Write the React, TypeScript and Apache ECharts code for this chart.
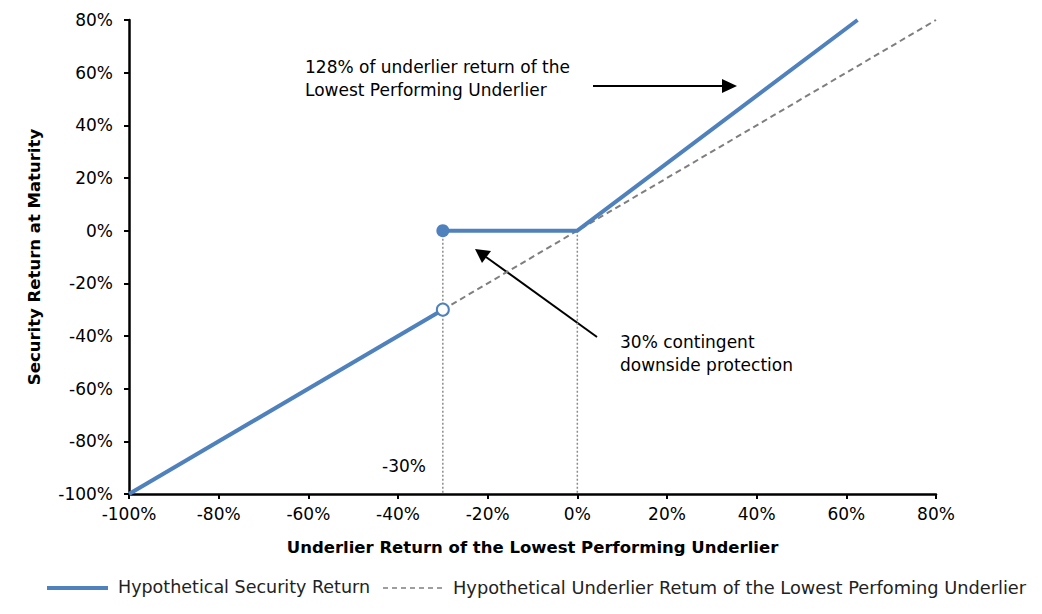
import React, { useEffect, useRef } from "react";
import * as echarts from "echarts";

const xTicks = [-100, -80, -60, -40, -20, 0, 20, 40, 60, 80];
const securityLow: [number, number][] = [[-100, -100], [-30, -30]];
const securityHigh: [number, number][] = [[-30, 0], [0, 0], [62.5, 80]];
const underlier: [number, number][] = [[-30, -30], [80, 80]];
const guide1: [number, number][] = [[-30, 0], [-30, -100]];
const guide2: [number, number][] = [[0, 0], [0, -100]];
const filledPoint: [number, number][] = [[-30, 0]];
const openPoint: [number, number][] = [[-30, -30]];

const SEC = "Hypothetical Security Return";
const UND = "Hypothetical Underlier Retum of the Lowest Perfoming Underlier";
const FONT = "DejaVu Sans";
const BLUE = "#4f81bd";
const GRAY = "#7f7f7f";

export default function App() {
  const ref = useRef<HTMLDivElement>(null);
  useEffect(() => {
    if (!ref.current) return;
    const chart = echarts.init(ref.current, undefined, { renderer: "svg" });
    const axisCommon = {
      type: "value",
      min: xTicks[0],
      max: xTicks[xTicks.length - 1],
      interval: 20,
      axisLine: { show: true, onZero: false, lineStyle: { color: "#000", width: 2.5 } },
      axisTick: { show: true, length: 5, lineStyle: { color: "#000", width: 2 } },
      splitLine: { show: false },
      axisLabel: {
        formatter: (v: number) => `${v}%`,
        color: "#000",
        fontFamily: FONT,
        fontSize: 17,
      },
      nameLocation: "middle",
      nameTextStyle: { color: "#000", fontFamily: FONT, fontSize: 16.5, fontWeight: "bold" },
    };
    const legendY = 588;
    chart.setOption({
      animation: false,
      grid: { left: 129, right: 106, top: 20, bottom: 120, containLabel: false },
      xAxis: {
        ...axisCommon,
        name: "Underlier Return of the Lowest Performing Underlier",
        nameGap: 45,
        axisLabel: { ...axisCommon.axisLabel, margin: 11 },
      },
      yAxis: {
        ...axisCommon,
        name: "Security Return at Maturity",
        nameGap: 86,
        axisLabel: { ...axisCommon.axisLabel, margin: 16 },
      },
      series: [
        {
          type: "line", name: "guide1", data: guide1, symbol: "none", z: 1,
          lineStyle: { color: "#8c8c8c", width: 1.5, type: [2, 2] },
        },
        {
          type: "line", name: "guide2", data: guide2, symbol: "none", z: 1,
          lineStyle: { color: "#8c8c8c", width: 1.5, type: [2, 2] },
        },
        {
          type: "line", name: UND, data: underlier, symbol: "none", z: 2,
          lineStyle: { color: GRAY, width: 2, type: [6, 4] },
          itemStyle: { color: GRAY },
        },
        {
          type: "line", name: SEC, data: securityLow, symbol: "none", z: 3,
          lineStyle: { color: BLUE, width: 4 },
          itemStyle: { color: BLUE },
        },
        {
          type: "line", name: SEC, data: securityHigh, symbol: "none", z: 3,
          lineStyle: { color: BLUE, width: 4 },
          itemStyle: { color: BLUE },
        },
        {
          type: "scatter", name: "filled", data: filledPoint, symbolSize: 13, z: 4,
          itemStyle: { color: BLUE, opacity: 1 },
        },
        {
          type: "scatter", name: "open", data: openPoint, symbolSize: 12, z: 4,
          itemStyle: { color: "#fff", borderColor: BLUE, borderWidth: 2, opacity: 1 },
        },
      ],
      graphic: [
        {
          type: "text", left: 305, top: 55,
          style: {
            text: "128% of underlier return of the\nLowest Performing Underlier",
            fill: "#000", font: `17px '${FONT}'`, lineHeight: 23,
          },
        },
        {
          type: "line",
          shape: { x1: 593, y1: 86, x2: 724, y2: 86 },
          style: { stroke: "#000", lineWidth: 2 },
        },
        {
          type: "polygon",
          shape: { points: [[737, 86], [722, 79], [722, 93]] },
          style: { fill: "#000" },
        },
        {
          type: "text", left: 620, top: 330,
          style: {
            text: "30% contingent\ndownside protection",
            fill: "#000", font: `17px '${FONT}'`, lineHeight: 23,
          },
        },
        {
          type: "line",
          shape: { x1: 597, y1: 337, x2: 486, y2: 257 },
          style: { stroke: "#000", lineWidth: 2 },
        },
        {
          type: "polygon",
          shape: { points: [[475, 249], [482, 263], [491, 251]] },
          style: { fill: "#000" },
        },
        {
          type: "text", left: 382, top: 457,
          style: { text: "-30%", fill: "#000", font: `17px '${FONT}'` },
        },
        {
          type: "line",
          shape: { x1: 47, y1: legendY, x2: 108, y2: legendY },
          style: { stroke: BLUE, lineWidth: 4 },
        },
        {
          type: "text", left: 118, top: legendY - 10,
          style: { text: SEC, fill: "#222", font: `17.5px '${FONT}'` },
        },
        {
          type: "line",
          shape: { x1: 383, y1: legendY, x2: 445, y2: legendY },
          style: { stroke: GRAY, lineWidth: 1.5, lineDash: [5, 4] },
        },
        {
          type: "text", left: 453, top: legendY - 10,
          style: { text: UND, fill: "#222", font: `17.8px '${FONT}'` },
        },
      ],
    });
    return () => chart.dispose();
  }, []);
  return (
    <div
      ref={ref}
      style={{ position: "absolute", left: 0, top: 0, width: 1042, height: 614 }}
    />
  );
}
